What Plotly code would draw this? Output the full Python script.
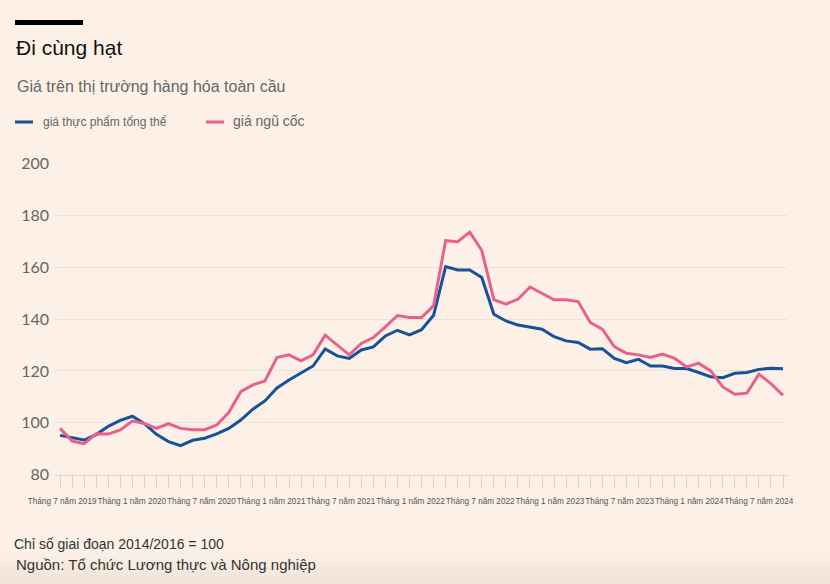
import plotly.graph_objects as go

# ---- data (monthly, Jul 2019 .. Jul 2024), index 2014-2016 = 100 ----
months = list(range(61))  # 0 = Jul 2019
food_index = [95.1, 94.2, 93.3, 95.4, 98.6, 100.9, 102.5, 99.6, 95.5, 92.7,
              91.1, 93.2, 94.0, 95.7, 97.8, 101.0, 105.2, 108.4, 113.4, 116.5,
              119.3, 121.9, 128.5, 125.8, 124.8, 128.1, 129.3, 133.5, 135.7, 133.9,
              135.9, 141.5, 160.3, 159.0, 159.0, 156.1, 141.9, 139.3, 137.7, 136.8,
              136.1, 133.2, 131.6, 131.0, 128.4, 128.6, 124.8, 123.2, 124.5, 121.9,
              121.9, 120.9, 120.9, 119.4, 117.7, 117.4, 119.1, 119.4, 120.6, 121.0,
              120.8]
cereal_index = [97.8, 92.9, 91.9, 95.7, 95.6, 97.2, 100.6, 99.7, 97.8, 99.6,
                97.8, 97.3, 97.3, 99.1, 103.9, 112.0, 114.6, 116.1, 125.2, 126.2,
                123.9, 126.2, 133.8, 130.1, 126.2, 130.6, 132.9, 137.0, 141.4, 140.6,
                140.6, 145.2, 170.3, 169.9, 173.6, 166.5, 147.5, 145.8, 147.7, 152.4,
                150.1, 147.5, 147.5, 146.8, 138.7, 136.1, 129.4, 126.8, 126.2, 125.2,
                126.5, 124.9, 121.5, 123.0, 120.0, 113.8, 111.0, 111.4, 118.7, 115.1,
                110.6]
x_labels = ["Tháng 7 năm 2019", "Tháng 1 năm 2020", "Tháng 7 năm 2020", "Tháng 1 năm 2021",
            "Tháng 7 năm 2021", "Tháng 1 năm 2022", "Tháng 7 năm 2022", "Tháng 1 năm 2023",
            "Tháng 7 năm 2023", "Tháng 1 năm 2024", "Tháng 7 năm 2024"]
y_ticks = [80, 100, 120, 140, 160, 180, 200]
series_names = ["giá thực phẩm tổng thể", "giá ngũ cốc"]

BLUE = "#15529a"
PINK = "#e7628a"
BG = "#fdf1e7"

W, H = 830, 584
ML, MR, MT, MB = 55, 43, 163, 109
PW, PH = W - ML - MR, H - MT - MB


def px(xp):
    return (xp - ML) / PW


def py(yp):
    return (H - MB - yp) / PH


fig = go.Figure()
fig.add_trace(go.Scatter(x=months, y=food_index, mode="lines", name=series_names[0],
                         line=dict(color=BLUE, width=3), showlegend=False))
fig.add_trace(go.Scatter(x=months, y=cereal_index, mode="lines", name=series_names[1],
                         line=dict(color=PINK, width=3), showlegend=False))

# label positions spread evenly along the axis as in the original
n_lab = len(x_labels)
lab_first, lab_last = 0.17, 58.0
label_pos = [lab_first + i * (lab_last - lab_first) / (n_lab - 1) for i in range(n_lab)]

fig.update_layout(
    width=W, height=H,
    margin=dict(l=ML, r=MR, t=MT, b=MB, pad=0),
    paper_bgcolor=BG, plot_bgcolor=BG,
    font=dict(family="Liberation Sans, Arial, sans-serif", color="#555555"),
    xaxis=dict(
        range=[-0.42, 60.33],
        tickmode="array", tickvals=label_pos, ticktext=x_labels,
        ticks="outside", ticklen=12, tickcolor="rgba(0,0,0,0)",
        tickangle=0,
        tickfont=dict(size=8.2, color="#555555", family="Liberation Sans, Arial, sans-serif"),
        ticklabelstandoff=6,
        showgrid=False, zeroline=False,
        showline=True, linecolor="#d9d3cd", linewidth=1,
        minor=dict(tickmode="array", tickvals=months, ticks="outside", ticklen=12,
                   tickcolor="#d9d3cd", tickwidth=1, showgrid=False),
    ),
    yaxis=dict(
        range=[79.8, 200.3],
        tickmode="array", tickvals=y_ticks,
        ticks="", showline=False, zeroline=False,
        gridcolor="#e9e3dd", gridwidth=1,
        tickfont=dict(size=16, color="#666666", family="Lato, Liberation Sans, sans-serif"),
        ticklabelstandoff=5,
    ),
)

shapes = [
    dict(type="rect", xref="paper", yref="paper", x0=px(15), x1=px(83), y0=py(20), y1=py(25),
         fillcolor="#000000", line=dict(width=0)),
    dict(type="line", xref="paper", yref="paper", x0=px(15), x1=px(33), y0=py(122), y1=py(122),
         line=dict(color=BLUE, width=3)),
    dict(type="line", xref="paper", yref="paper", x0=px(206), x1=px(224), y0=py(122), y1=py(122),
         line=dict(color=PINK, width=3)),
]
for k in range(6):
    shapes.append(dict(type="rect", xref="paper", yref="paper", x0=px(0), x1=px(W),
                       y0=py(H), y1=py(552 + k * 5), fillcolor="rgba(90,80,70,0.012)",
                       line=dict(width=0), layer="below"))
fig.update_layout(shapes=shapes)

ann = [
    dict(text="Đi cùng hạt", x=px(14), y=py(47), size=21, color="#111111"),
    dict(text="Giá trên thị trường hàng hóa toàn cầu", x=px(15), y=py(86), size=16, color="#666666"),
    dict(text=series_names[0], x=px(41), y=py(122), size=12, color="#666666"),
    dict(text=series_names[1], x=px(231), y=py(121), size=14, color="#666666"),
    dict(text="Chỉ số giai đoạn 2014/2016 = 100", x=px(12), y=py(544), size=14, color="#333333"),
    dict(text="Nguồn: Tổ chức Lương thực và Nông nghiệp", x=px(14), y=py(564), size=15, color="#333333"),
]
for a in ann:
    fig.add_annotation(text=a["text"], x=a["x"], y=a["y"], xref="paper", yref="paper",
                       xanchor="left", yanchor="middle", showarrow=False,
                       font=dict(size=a["size"], color=a["color"],
                                 family="Liberation Sans, Arial, sans-serif"))

page_js = ("document.body.style.margin='0';document.body.style.padding='0';"
           "document.body.style.overflow='hidden';"
           "document.body.style.background='" + BG + "';")
fig.write_html("out.html", post_script=page_js, config={"displayModeBar": False})
